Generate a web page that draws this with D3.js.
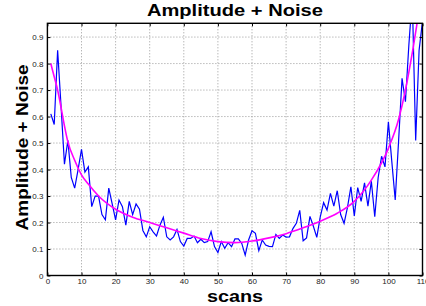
<!DOCTYPE html>
<html>
<head>
<meta charset="utf-8">
<script src="https://cdn.jsdelivr.net/npm/d3@7"></script>
<style>
  body { margin: 0; background: #fff; }
  text { font-family: "Liberation Sans", Arial, sans-serif; }
  .tick text { font-size: 8px; fill: #222; }
</style>
</head>
<body>
<div id="chart"></div>
<script>
// Data
var scans = d3.range(1, 111);
var noisy = [
  0.61, 0.57, 0.85, 0.64, 0.42, 0.51, 0.37, 0.33, 0.40, 0.476,
  0.39, 0.41, 0.26, 0.30, 0.30, 0.23, 0.21, 0.33, 0.27, 0.21,
  0.285, 0.26, 0.19, 0.28, 0.23, 0.27, 0.25, 0.17, 0.146, 0.184,
  0.165, 0.149, 0.19, 0.22, 0.146, 0.134, 0.146, 0.174, 0.128, 0.111,
  0.14, 0.14, 0.149, 0.124, 0.137, 0.124, 0.128, 0.165, 0.109, 0.087,
  0.128, 0.103, 0.124, 0.109, 0.138, 0.138, 0.121, 0.077, 0.134, 0.169,
  0.159, 0.094, 0.134, 0.115, 0.11, 0.109, 0.155, 0.14, 0.153, 0.145,
  0.146, 0.177, 0.197, 0.246, 0.131, 0.142, 0.223, 0.186, 0.144, 0.22,
  0.275, 0.247, 0.31, 0.262, 0.32, 0.23, 0.197, 0.257, 0.335, 0.225,
  0.332, 0.28, 0.35, 0.262, 0.356, 0.222, 0.37, 0.45, 0.41, 0.58,
  0.43, 0.285, 0.51, 0.744, 0.656, 0.87, 1.05, 0.51, 0.85, 0.96
];
// smooth fitted curve (magenta), sampled at a few scans
var fitScans = [1, 2, 3, 4, 5, 6, 8, 10, 12, 15, 20, 25, 30, 35, 40, 45, 50, 55, 60, 65, 70, 75, 80, 85, 90, 95, 100, 103, 105, 107, 109, 110];
var fitVals = [0.80, 0.75, 0.70, 0.635, 0.565, 0.505, 0.435, 0.38, 0.345, 0.30, 0.25, 0.22, 0.20, 0.18, 0.16, 0.14, 0.128, 0.124, 0.13, 0.142, 0.158, 0.18, 0.205, 0.235, 0.28, 0.36, 0.48, 0.59, 0.70, 0.84, 1.0, 1.08];

var xTicks = d3.range(0, 111, 10);
var yTicks = [0, 0.1, 0.2, 0.3, 0.4, 0.5, 0.6, 0.7, 0.8, 0.9];
var yTickLabels = ["0", "0.1", "0.2", "0.3", "0.4", "0.5", "0.6", "0.7", "0.8", "0.9"];

var svgWidth = 426;
var svgHeight = 306;
var margin = { top: 23.3, right: 3.5, bottom: 30.5, left: 47.4 };
var width = svgWidth - margin.left - margin.right;
var height = svgHeight - margin.top - margin.bottom;

var svg = d3.select("#chart")
  .append("svg")
  .attr("width", svgWidth)
  .attr("height", svgHeight);

var chartGroup = svg.append("g")
  .attr("transform", `translate(${margin.left}, ${margin.top})`);

var xScale = d3.scaleLinear().domain([0, 110]).range([0, width]);
var yScale = d3.scaleLinear().domain([0, 0.952]).range([height, 0]);

// dotted grid
chartGroup.append("g")
  .selectAll("line")
  .data(xTicks.slice(1, -1))
  .enter()
  .append("line")
  .attr("x1", d => xScale(d)).attr("x2", d => xScale(d))
  .attr("y1", 0).attr("y2", height)
  .attr("stroke", "#999").attr("stroke-width", 1)
  .attr("stroke-dasharray", "1,2");
chartGroup.append("g")
  .selectAll("line")
  .data(yTicks.slice(1))
  .enter()
  .append("line")
  .attr("x1", 0).attr("x2", width)
  .attr("y1", d => yScale(d)).attr("y2", d => yScale(d))
  .attr("stroke", "#999").attr("stroke-width", 1)
  .attr("stroke-dasharray", "1,2");

// clip lines to the plot box
svg.append("clipPath").attr("id", "clip")
  .append("rect").attr("width", width).attr("height", height);

var plot = chartGroup.append("g").attr("clip-path", "url(#clip)");

var noisyLine = d3.line()
  .x((d, i) => xScale(scans[i]))
  .y(d => yScale(d));
plot.append("path")
  .datum(noisy)
  .attr("d", noisyLine)
  .attr("fill", "none")
  .attr("stroke", "#0000ff")
  .attr("stroke-width", 1.2);

var fitLine = d3.line()
  .x((d, i) => xScale(fitScans[i]))
  .y(d => yScale(d))
  .curve(d3.curveMonotoneX);
plot.append("path")
  .datum(fitVals)
  .attr("d", fitLine)
  .attr("fill", "none")
  .attr("stroke", "#ff00ff")
  .attr("stroke-width", 1.6);

// axes, ticks pointing inward on all four sides
var bottomAxis = d3.axisBottom(xScale).tickValues(xTicks).tickSize(-3).tickPadding(3);
var topAxis = d3.axisTop(xScale).tickValues(xTicks).tickSize(-3).tickFormat("");
var leftAxis = d3.axisLeft(yScale).tickValues(yTicks).tickSize(-3).tickPadding(4)
  .tickFormat((d, i) => yTickLabels[i]);
var rightAxis = d3.axisRight(yScale).tickValues(yTicks).tickSize(-3).tickFormat("");

chartGroup.append("g").attr("transform", `translate(0, ${height})`).call(bottomAxis);
chartGroup.append("g").call(topAxis);
chartGroup.append("g").call(leftAxis);
chartGroup.append("g").attr("transform", `translate(${width}, 0)`).call(rightAxis);
chartGroup.selectAll(".domain").remove();

// frame
chartGroup.append("rect")
  .attr("width", width).attr("height", height)
  .attr("fill", "none").attr("stroke", "#000").attr("stroke-width", 1.4);

// titles
svg.append("text")
  .attr("x", margin.left + width / 2).attr("y", 16)
  .attr("text-anchor", "middle")
  .attr("font-size", 17).attr("font-weight", "bold")
  .attr("textLength", 176).attr("lengthAdjust", "spacingAndGlyphs")
  .text("Amplitude + Noise");

svg.append("text")
  .attr("x", margin.left + width / 2).attr("y", 302)
  .attr("text-anchor", "middle")
  .attr("font-size", 16).attr("font-weight", "bold")
  .attr("textLength", 56).attr("lengthAdjust", "spacingAndGlyphs")
  .text("scans");

svg.append("text")
  .attr("transform", `translate(28, ${margin.top + height / 2 - 2}) rotate(-90)`)
  .attr("text-anchor", "middle")
  .attr("font-size", 17).attr("font-weight", "bold")
  .attr("textLength", 166).attr("lengthAdjust", "spacingAndGlyphs")
  .text("Amplitude + Noise");
</script>
</body>
</html>
